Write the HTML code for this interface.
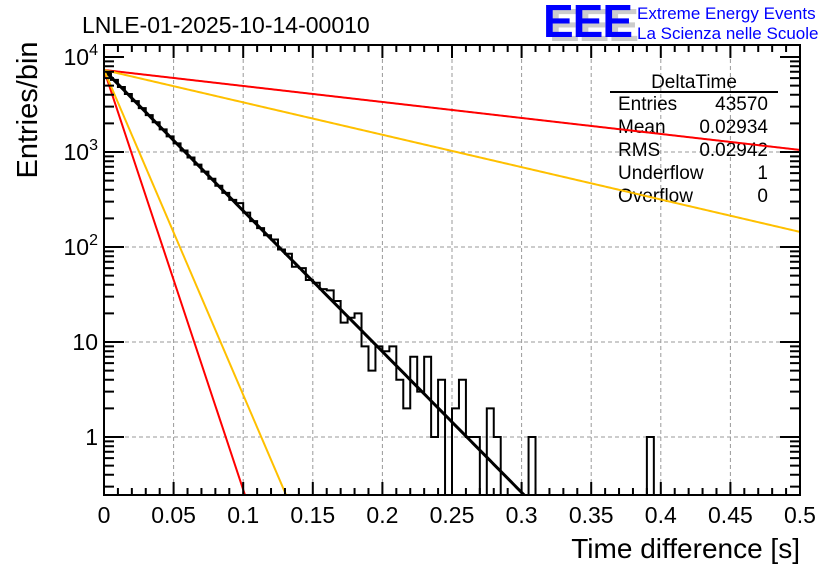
<!DOCTYPE html>
<html><head><meta charset="utf-8"><style>
body{margin:0;background:#fff;}
svg{display:block;font-family:"Liberation Sans",sans-serif;}
</style></head><body>
<svg id="chart" width="836" height="572" viewBox="0 0 836 572">
<defs><clipPath id="plotclip"><rect x="104" y="45" width="696" height="450"/></clipPath></defs>
<text x="82" y="33" font-size="23">LNLE-01-2025-10-14-00010</text>
<g>
<text x="549" y="41" font-size="46" font-weight="bold" fill="#ccc" letter-spacing="-1">EEE</text>
<text x="543" y="37" font-size="46" font-weight="bold" fill="#0000ff" letter-spacing="-1">EEE</text>
<text x="637" y="19" font-size="17" fill="#0000ff">Extreme Energy Events</text>
<text x="637" y="39" font-size="17" fill="#0000ff">La Scienza nelle Scuole</text>
</g>
<g id="grid"></g>
<g id="hist" clip-path="url(#plotclip)"></g>
<g font-size="19">
<text x="694" y="88" text-anchor="middle">DeltaTime</text>
<line x1="610" y1="92" x2="778" y2="92" stroke="#000" stroke-width="2"/>
<text x="618" y="110">Entries</text><text x="768" y="110" text-anchor="end">43570</text>
<text x="618" y="133">Mean</text><text x="768" y="133" text-anchor="end">0.02934</text>
<text x="618" y="156">RMS</text><text x="768" y="156" text-anchor="end">0.02942</text>
<text x="618" y="179">Underflow</text><text x="768" y="179" text-anchor="end">1</text>
<text x="618" y="202">Overflow</text><text x="768" y="202" text-anchor="end">0</text>
</g>
<g id="fits" clip-path="url(#plotclip)"></g>
<g id="axes"></g>
<text x="800" y="558" font-size="28" text-anchor="end">Time difference [s]</text>
<text transform="translate(37,110) rotate(-90)" font-size="29" text-anchor="middle">Entries/bin</text>
</svg>
<script>
const binWidth = 0.005;
const counts = [6816,5744,4840,4079,3437,2897,2441,2057,1733,1461,1231,1037,874,737,621,523,441,371,313,290,230,187,158,133,120,94,85,62,60,45,42,36,35,27,16,18,20,9,5,9,8,9,4,2,7,3,7,1,4,0,2,4,1,1,0,2,1,0,0,0,0,1,0,0,0,0,0,0,0,0,0,0,0,0,0,0,0,0,1,0,0,0,0,0,0,0,0,0,0,0,0,0,0,0,0,0,0,0,0,0];
const fitAmp = 7300;
const fitTaus = [0.0293, 0.00983, 0.0127, 0.258, 0.1274];
const fitColors = ['#000000','#ff0000','#ffc000','#ff0000','#ffc000'];
const fitNames = ['fit-line-main','fit-line-red-steep','fit-line-yellow-steep','fit-line-red-shallow','fit-line-yellow-shallow'];
const xTicks = [0,0.05,0.1,0.15,0.2,0.25,0.3,0.35,0.4,0.45,0.5];
const xTickLabels = ['0','0.05','0.1','0.15','0.2','0.25','0.3','0.35','0.4','0.45','0.5'];
const yDecades = [1,10,100,1000,10000];

const NS='http://www.w3.org/2000/svg';
const X0=104,X1=800,Y0=45,Y1=495;
function xs(t){return X0+(t/0.5)*(X1-X0);}
function ys(v){return v<=0?Y1+10:437-95*Math.log10(v);}
function mk(tag,attrs,parent){const e=document.createElementNS(NS,tag);for(const k in attrs)e.setAttribute(k,attrs[k]);parent.appendChild(e);return e;}
const grid=document.getElementById('grid'),axes=document.getElementById('axes'),hist=document.getElementById('hist'),fits=document.getElementById('fits');

xTicks.forEach((t,i)=>{
  if(i>0&&i<xTicks.length-1){const g=mk('line',{x1:xs(t),x2:xs(t),y1:Y0,y2:Y1,stroke:'#999','stroke-dasharray':'4,3','stroke-width':1},grid);
  
  }
  const lb=mk('text',{x:xs(t),y:523,'font-size':23,'text-anchor':'middle'},axes);lb.textContent=xTickLabels[i];
  
  
});
yDecades.forEach(v=>{
  const y=ys(v);
  if(v<10000){const g=mk('line',{x1:X0,x2:X1,y1:y,y2:y,stroke:'#999','stroke-dasharray':'4,3','stroke-width':1},grid);
  
  }
  const lb=mk('text',{x:98,y:y+8,'font-size':23,'text-anchor':'end'},axes);
  if(v===1)lb.textContent='1';else if(v===10)lb.textContent='10';
  else{lb.textContent='10';const s=mk('tspan',{dy:-10,'font-size':16},lb);s.textContent=String(Math.round(Math.log10(v)));lb.setAttribute('x',98);}
  
  
});
let d='M'+X0+','+(Y1+10);
counts.forEach((c,i)=>{const y=ys(c);d+=' L'+xs(i*binWidth)+','+y+' L'+xs((i+1)*binWidth)+','+y;});
d+=' L'+X1+','+(Y1+10);
const hp=mk('path',{d:d,fill:'none',stroke:'#000','stroke-width':2},hist);


fitTaus.forEach((tau,k)=>{
  let p='';for(let i=0;i<=400;i++){const t=i*0.5/400;const v=fitAmp*Math.exp(-t/tau);if(v<0.1)break;p+=(i?' L':'M')+xs(t).toFixed(2)+','+ys(v).toFixed(2);}
  const l=mk('path',{d:p,fill:'none',stroke:fitColors[k],'stroke-width':k===0?3:2},fits);
  
  
});
let td='';
for(let i=0;i<=50;i++){const t=i*0.01,x=xs(t),len=(i%5===0)?13:7;td+=`M${x},${Y1}V${Y1-len}M${x},${Y0}V${Y0+len}`;}
for(let dec=-1;dec<=4;dec++){for(let m=1;m<=9;m++){const v=m*Math.pow(10,dec);const y=ys(v);if(y<Y0||y>Y1)continue;const len=m===1?20:10;td+=`M${X0},${y}H${X0+len}M${X1},${y}H${X1-len}`;}}
const tp=mk('path',{d:td,stroke:'#000','stroke-width':2,fill:'none'},axes);


const fr=mk('rect',{x:X0,y:Y0,width:X1-X0,height:Y1-Y0,fill:'none',stroke:'#000','stroke-width':2},axes);


</script>
</body></html>
